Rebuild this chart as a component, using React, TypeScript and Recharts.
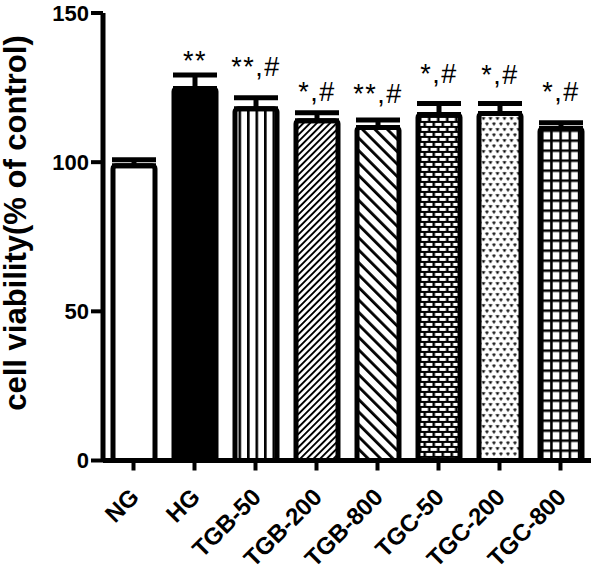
import React from 'react';
import { BarChart, Bar, XAxis, YAxis, ErrorBar, LabelList } from 'recharts';

const categories = ['NG', 'HG', 'TGB-50', 'TGB-200', 'TGB-800', 'TGC-50', 'TGC-200', 'TGC-800'];
const viability = [98.8, 124.7, 117.9, 113.9, 111.6, 116.0, 116.3, 111.3];
const sem = [2.0, 4.5, 3.7, 2.7, 2.5, 3.7, 3.4, 1.9];
const significance = ['', '**', '**,#', '*,#', '**,#', '*,#', '*,#', '*,#'];
const significanceLevel = [0, 130.9, 128.9, 120.5, 120.0, 126.7, 126.1, 120.5];
const yTicks = [0, 50, 100, 150];

const FONT = '"Liberation Sans", Arial, Helvetica, sans-serif';
const fills = ['white', 'black', 'vlines', 'fdiag', 'bdiag', 'brick', 'dots', 'grid'];

const data = categories.map((name, i) => ({
  name,
  value: viability[i],
  err: [0, sem[i]],
  sig: significance[i],
}));

function PatternDef({ id, kind, x, y }: { id: string; kind: string; x: number; y: number }) {
  if (kind === 'vlines') {
    return (
      <pattern id={id} patternUnits="userSpaceOnUse" width={8.5} height={10} x={x + 3.5} y={y}>
        <rect x={0} y={0} width={8.5} height={10} fill="#fff" />
        <rect x={0} y={0} width={2.6} height={10} fill="#000" />
      </pattern>
    );
  }
  if (kind === 'fdiag') {
    return (
      <pattern id={id} patternUnits="userSpaceOnUse" width={4.7} height={10} x={x} y={y} patternTransform="rotate(45)">
        <rect x={0} y={0} width={4.7} height={10} fill="#fff" />
        <rect x={0} y={0} width={1.9} height={10} fill="#000" />
      </pattern>
    );
  }
  if (kind === 'bdiag') {
    return (
      <pattern id={id} patternUnits="userSpaceOnUse" width={8.8} height={10} x={x} y={y} patternTransform="rotate(-45)">
        <rect x={0} y={0} width={8.8} height={10} fill="#fff" />
        <rect x={0} y={0} width={2.8} height={10} fill="#000" />
      </pattern>
    );
  }
  if (kind === 'brick') {
    return (
      <pattern id={id} patternUnits="userSpaceOnUse" width={9} height={10} x={x + 2.5} y={y + 2.5}>
        <rect x={0} y={0} width={9} height={10} fill="#000" />
        <rect x={1} y={1} width={6.5} height={3} fill="#fff" />
        <rect x={5.5} y={6} width={3.5} height={3} fill="#fff" />
        <rect x={0} y={6} width={3} height={3} fill="#fff" />
      </pattern>
    );
  }
  if (kind === 'dots') {
    return (
      <pattern id={id} patternUnits="userSpaceOnUse" width={7} height={11} x={x + 2.5} y={y + 2.5}>
        <rect x={0} y={0} width={7} height={11} fill="#fff" />
        <path d="M0.6,1.2 L2,3.4 L3.4,1.2" stroke="#000" strokeWidth={1.1} fill="none" />
        <circle cx={2} cy={1.4} r={0.7} fill="#000" />
        <path d="M4.1,6.7 L5.5,8.9 L6.9,6.7" stroke="#000" strokeWidth={1.1} fill="none" />
        <circle cx={5.5} cy={6.9} r={0.7} fill="#000" />
      </pattern>
    );
  }
  if (kind === 'grid') {
    return (
      <pattern id={id} patternUnits="userSpaceOnUse" width={9.2} height={10} x={x + 1} y={y + 1}>
        <rect x={0} y={0} width={9.2} height={10} fill="#fff" />
        <rect x={0} y={0} width={2.5} height={10} fill="#000" />
        <rect x={0} y={0} width={9.2} height={2.5} fill="#000" />
      </pattern>
    );
  }
  return null;
}

function PatternBar(props: any) {
  const { x, y, width, height, index } = props;
  const kind = fills[index] || 'white';
  const id = `bar-pat-${index}`;
  let fill = '#fff';
  if (kind === 'black') fill = '#000';
  else if (kind !== 'white') fill = `url(#${id})`;
  return (
    <g>
      <defs>
        <PatternDef id={id} kind={kind} x={x} y={y} />
      </defs>
      <rect
        x={x}
        y={y}
        width={width}
        height={height}
        rx={3}
        ry={3}
        fill={fill}
        stroke="#000"
        strokeWidth={5}
        strokeLinejoin="round"
      />
    </g>
  );
}

function SigLabel(props: any) {
  const { x, y, width, height, index, value } = props;
  if (!value) return null;
  const v = viability[index];
  const pxPerUnit = Number(height) / v;
  const baseY = Number(y) + Number(height);
  const ly = baseY - significanceLevel[index] * pxPerUnit;
  return (
    <text
      x={Number(x) + Number(width) / 2}
      y={ly}
      textAnchor="middle"
      fontFamily={FONT}
      fontSize={27}
      letterSpacing={1.5}
      fill="#000"
    >
      {value}
    </text>
  );
}

function XTick(props: any) {
  const { x, y, payload } = props;
  return (
    <g transform={`translate(${Number(x) + 7},${Number(y) + 26})`}>
      <text
        x={0}
        y={0}
        textAnchor="end"
        fontFamily={FONT}
        fontWeight="bold"
        fontSize={24}
        fill="#000"
        transform="rotate(-45)"
      >
        {payload.value}
      </text>
    </g>
  );
}

function YTick(props: any) {
  const { x, y, payload } = props;
  return (
    <text
      x={Number(x)}
      y={Number(y)}
      dy="0.36em"
      textAnchor="end"
      fontFamily={FONT}
      fontWeight="bold"
      fontSize={22}
      fill="#000"
    >
      {payload.value}
    </text>
  );
}

function YLabel() {
  return (
    <g transform="translate(26,223)">
      <text
        x={0}
        y={0}
        textAnchor="middle"
        fontFamily={FONT}
        fontWeight="bold"
        fontSize={31}
        fill="#000"
        transform="rotate(-90)"
      >
        cell viability(% of control)
      </text>
    </g>
  );
}

export default function App() {
  return (
    <div style={{ position: 'absolute', left: 0, top: 0, background: '#fff' }}>
      <BarChart
        width={597}
        height={569}
        data={data}
        margin={{ top: 13, right: 6, left: 0, bottom: 0 }}
        barCategoryGap={0}
        barSize={42}
      >
        <XAxis
          dataKey="name"
          interval={0}
          height={108.5}
          tickSize={10}
          tickMargin={2}
          axisLine={{ stroke: '#000', strokeWidth: 5 }}
          tickLine={{ stroke: '#000', strokeWidth: 4 }}
          tick={(p: any) => <XTick {...p} />}
        />
        <YAxis
          width={103}
          domain={[0, 150]}
          ticks={yTicks}
          interval={0}
          tickSize={12}
          tickMargin={2}
          axisLine={{ stroke: '#000', strokeWidth: 5 }}
          tickLine={{ stroke: '#000', strokeWidth: 4 }}
          tick={(p: any) => <YTick {...p} />}
          label={<YLabel />}
        />
        <Bar dataKey="value" isAnimationActive={false} shape={<PatternBar />}>
          <ErrorBar dataKey="err" width={22} strokeWidth={5} stroke="#000" direction="y" />
          <LabelList dataKey="sig" content={<SigLabel />} />
        </Bar>
      </BarChart>
    </div>
  );
}
